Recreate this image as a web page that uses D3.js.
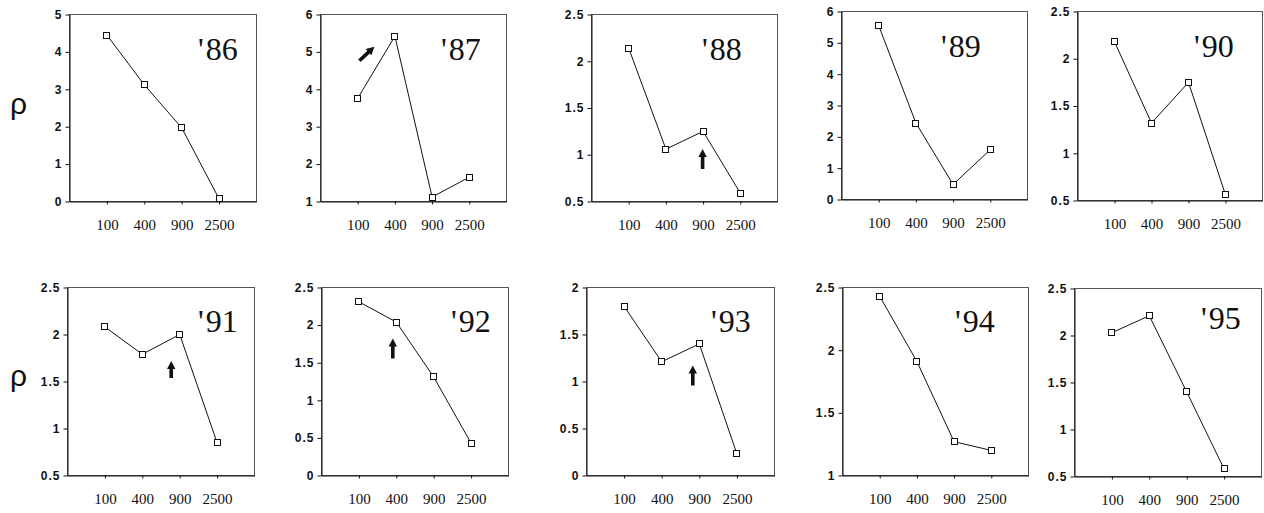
<!DOCTYPE html>
<html>
<head>
<meta charset="utf-8">
<script src="https://cdn.jsdelivr.net/npm/d3@7/dist/d3.min.js"></script>
<style>
  body { margin: 0; background: #fff; }
  svg { display: block; }
</style>
</head>
<body>
<svg id="chart" width="1264" height="513"></svg>
<script>
// Plot-size categories (x axis)
const categories = ["100", "400", "900", "2500"];

// One season per panel
const years = ["86", "87", "88", "89", "90", "91", "92", "93", "94", "95"];

// rho per category, one array per season
const rho86 = [4.45, 3.12, 1.97, 0.07];
const rho87 = [3.76, 5.42, 1.12, 1.65];
const rho88 = [2.14, 1.06, 1.25, 0.59];
const rho89 = [5.55, 2.44, 0.48, 1.59];
const rho90 = [2.18, 1.32, 1.75, 0.56];
const rho91 = [2.08, 1.79, 2.00, 0.85];
const rho92 = [2.31, 2.04, 1.31, 0.43];
const rho93 = [1.80, 1.21, 1.40, 0.23];
const rho94 = [2.43, 1.91, 1.27, 1.20];
const rho95 = [2.03, 2.21, 1.40, 0.58];

// y-axis ranges and tick steps per season
const yMin  = [0, 1, 0.5, 0, 0.5, 0.5, 0,   0, 1,   0.5];
const yMax  = [5, 6, 2.5, 6, 2.5, 2.5, 2.5, 2, 2.5, 2.5];
const yStep = [1, 1, 0.5, 1, 0.5, 0.5, 0.5, 0.5, 0.5, 0.5];

// Seasons with a marked plot size
const arrowYears = ["87", "88", "91", "92", "93"];
const arrowAt    = ["400", "900", "900", "400", "900"];

const seriesList = [rho86, rho87, rho88, rho89, rho90, rho91, rho92, rho93, rho94, rho95];

// Panel frames: left, top, width, height
const frames = [
  [69, 14, 187, 187], [320, 14, 186, 187], [591, 14, 186, 187], [841, 11, 186, 188], [1077, 11, 185, 189],
  [67, 287, 187, 188], [321, 287, 187, 188], [586, 287, 188, 188], [842, 287, 186, 188], [1074, 288, 187, 188]
];
// Season label: start x from frame left, baseline from frame top
const yearPos = [
  [129, 46], [121, 46], [111, 46], [100, 46], [117, 46],
  [131, 45], [130, 45], [125, 45], [113, 45], [127, 41]
];
// Arrow tip/tail offsets from the marked point
const arrowGeom = {
  "87": { tip: [-20, 11], tail: [-35, 25] },
  "88": { tip: [0, 18], tail: [0, 38] },
  "91": { tip: [-8, 27], tail: [-8, 44] },
  "92": { tip: [-3, 17], tail: [-3, 37] },
  "93": { tip: [-6, 22], tail: [-6, 42] }
};

const SERIF = '"Liberation Serif", "DejaVu Serif", "Times New Roman", serif';
const SANS = '"Liberation Sans", Arial, Helvetica, sans-serif';

const svg = d3.select("#chart");
const fmt = d3.format("~g");

function arrowPath(x0, y0, x1, y1) {
  const dx = x1 - x0, dy = y1 - y0;
  const len = Math.hypot(dx, dy);
  const ux = dx / len, uy = dy / len;
  const px = -uy, py = ux;
  const shaft = 1.8, head = 4.2, headLen = 8;
  const bx = x1 - ux * headLen, by = y1 - uy * headLen;
  const pts = [
    [x0 + px * shaft, y0 + py * shaft],
    [bx + px * shaft, by + py * shaft],
    [bx + px * head, by + py * head],
    [x1, y1],
    [bx - px * head, by - py * head],
    [bx - px * shaft, by - py * shaft],
    [x0 - px * shaft, y0 - py * shaft]
  ];
  return "M" + pts.map(p => p.join(",")).join("L") + "Z";
}

years.forEach((yr, i) => {
  const [left, top, w, h] = frames[i];
  const g = svg.append("g").attr("transform", `translate(${left},${top})`);

  const x = d3.scalePoint().domain(categories).range([0, w]).padding(1);
  const y = d3.scaleLinear().domain([yMin[i], yMax[i]]).range([h, 0]);
  const ticks = d3.range(yMin[i], yMax[i] + yStep[i] / 2, yStep[i]);

  // frame
  g.append("rect")
    .attr("x", 0.5).attr("y", 0.5).attr("width", w).attr("height", h)
    .attr("fill", "none").attr("stroke", "#555").attr("stroke-width", 1);

  // y axis
  const ya = g.append("g").attr("transform", "translate(0.5,0.5)")
    .call(d3.axisLeft(y).tickValues(ticks).tickFormat(fmt).tickSizeInner(4).tickSizeOuter(0).tickPadding(3));
  ya.attr("font-family", null).attr("font-size", null);
  ya.select(".domain").attr("stroke", "#111");
  ya.selectAll(".tick line").attr("stroke", "#111");
  ya.selectAll(".tick text")
    .style("font-family", SANS).style("font-weight", "bold").style("font-size", "12px")
    .style("letter-spacing", "1px").attr("fill", "#111");

  // x axis
  const xa = g.append("g").attr("transform", `translate(0.5,${h + 0.5})`)
    .call(d3.axisBottom(x).tickSizeInner(3).tickSizeOuter(0).tickPadding(15));
  xa.attr("font-family", null).attr("font-size", null);
  xa.select(".domain").attr("stroke", "#111");
  xa.selectAll(".tick line").attr("stroke", "#111");
  xa.selectAll(".tick text")
    .style("font-family", SERIF).style("font-size", "15px").attr("fill", "#111")
    .attr("dy", "0.71em");

  const vals = seriesList[i];
  const pts = categories.map((c, k) => ({ c, v: vals[k] }));

  g.append("path")
    .datum(pts)
    .attr("fill", "none").attr("stroke", "#111").attr("stroke-width", 1)
    .attr("d", d3.line().x(d => x(d.c) + 0.5).y(d => y(d.v) + 0.5));

  g.selectAll("rect.mk").data(pts).join("rect")
    .attr("class", "mk")
    .attr("x", d => Math.round(x(d.c)) - 2.5).attr("y", d => Math.round(y(d.v)) - 2.5)
    .attr("width", 6).attr("height", 6)
    .attr("fill", "#fff").attr("stroke", "#111").attr("stroke-width", 1);

  // season label
  const t = g.append("text")
    .attr("x", yearPos[i][0]).attr("y", yearPos[i][1])
    .style("font-family", SERIF).style("font-size", "32px").attr("fill", "#111");
  t.append("tspan").text("'");
  t.append("tspan").attr("dx", 2).text(yr);

  // arrow marker
  const ai = arrowYears.indexOf(yr);
  if (ai >= 0) {
    const cat = arrowAt[ai];
    const px = x(cat), py = y(vals[categories.indexOf(cat)]);
    const geo = arrowGeom[yr];
    g.append("path")
      .attr("d", arrowPath(px + geo.tail[0], py + geo.tail[1], px + geo.tip[0], py + geo.tip[1]))
      .attr("fill", "#111");
  }
});

// row labels
[114, 386].forEach(by => {
  svg.append("text").attr("x", 10).attr("y", by)
    .style("font-family", SANS).style("font-size", "30px").attr("fill", "#111")
    .text("ρ");
});
</script>
</body>
</html>
